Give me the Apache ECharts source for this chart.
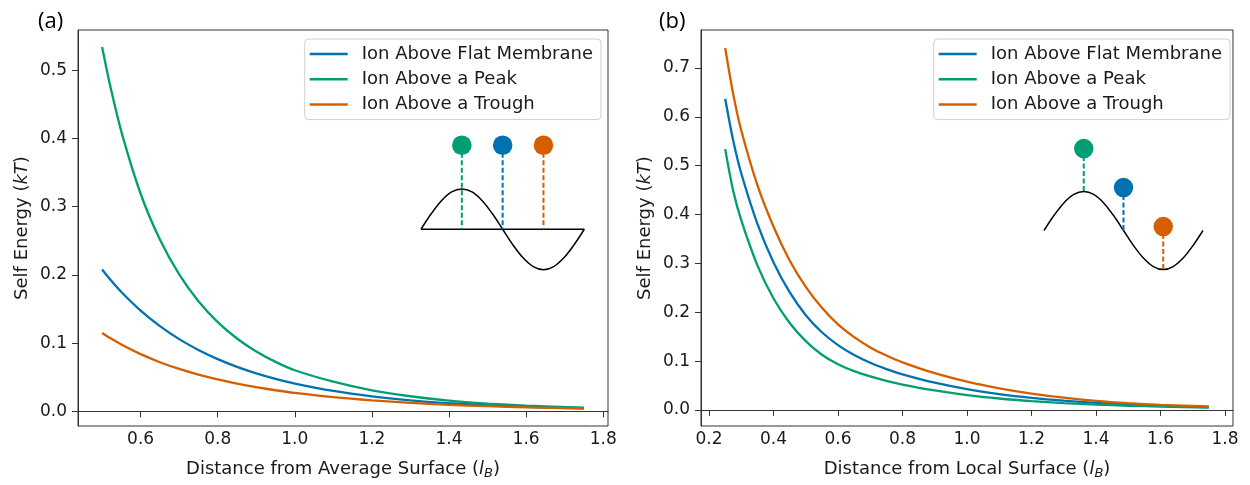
<!DOCTYPE html>
<html>
<head>
<meta charset="utf-8">
<script src="https://cdn.jsdelivr.net/npm/echarts@6/dist/echarts.min.js"></script>
<style>
html,body{margin:0;padding:0;background:#fff;}
#chart{width:1250px;height:485px;}
</style>
</head>
<body>
<div id="chart"></div>
<script>
// ---------- data ----------
const seriesNames = ['Ion Above Flat Membrane', 'Ion Above a Peak', 'Ion Above a Trough'];
const seriesColors = ['#0072B2', '#009E73', '#D55E00'];

// panel (a): distance from average surface
const leftX      = [0.50, 0.52, 0.55, 0.60, 0.65, 0.70, 0.75, 0.80, 0.85, 0.90, 0.95, 1.00, 1.10, 1.20, 1.30, 1.40, 1.50, 1.60, 1.75];
const leftFlat   = [0.208, 0.194, 0.1749, 0.1476, 0.1249, 0.1059, 0.0900, 0.0766, 0.0653, 0.0558, 0.0477, 0.0408, 0.0300, 0.0221, 0.0163, 0.0121, 0.0090, 0.0067, 0.0043];
const leftPeak   = [0.534, 0.4797, 0.4101, 0.319, 0.2518, 0.2007, 0.1615, 0.1309, 0.1069, 0.0878, 0.0726, 0.0603, 0.0435, 0.0308, 0.0222, 0.0157, 0.0114, 0.0084, 0.0054];
const leftTrough = [0.115, 0.1078, 0.0980, 0.0839, 0.0721, 0.0622, 0.0539, 0.0468, 0.0407, 0.0355, 0.0310, 0.0271, 0.0208, 0.0161, 0.0125, 0.0097, 0.0076, 0.0059, 0.0041];

// panel (b): distance from local surface
const rightX      = [0.25, 0.275, 0.30, 0.35, 0.40, 0.45, 0.50, 0.55, 0.60, 0.65, 0.70, 0.75, 0.80, 0.90, 1.00, 1.10, 1.20, 1.30, 1.40, 1.50, 1.60, 1.75];
const rightFlat   = [0.637, 0.551, 0.484, 0.381, 0.302, 0.241, 0.194, 0.159, 0.1326, 0.1124, 0.0965, 0.0837, 0.0729, 0.0557, 0.0425, 0.0325, 0.0248, 0.0189, 0.0145, 0.0110, 0.0084, 0.0057];
const rightPeak   = [0.534, 0.448, 0.388, 0.296, 0.228, 0.178, 0.141, 0.113, 0.0935, 0.0795, 0.0685, 0.0595, 0.0520, 0.0398, 0.0304, 0.0234, 0.0181, 0.0141, 0.0110, 0.0086, 0.0068, 0.0048];
const rightTrough = [0.741, 0.646, 0.572, 0.460, 0.375, 0.306, 0.252, 0.209, 0.175, 0.149, 0.128, 0.1115, 0.0975, 0.0752, 0.0578, 0.0442, 0.0335, 0.0251, 0.0186, 0.0138, 0.0103, 0.0070];

// tick labels
const leftXTicks  = [0.6, 0.8, 1.0, 1.2, 1.4, 1.6, 1.8];
const leftYTicks  = [0.0, 0.1, 0.2, 0.3, 0.4, 0.5];
const rightXTicks = [0.2, 0.4, 0.6, 0.8, 1.0, 1.2, 1.4, 1.6, 1.8];
const rightYTicks = [0.0, 0.1, 0.2, 0.3, 0.4, 0.5, 0.6, 0.7];

// inset schematics (one period of the membrane shape, in quarter-period units)
const waveX = [0, 0.25, 0.5, 0.75, 1, 1.25, 1.5, 1.75, 2, 2.25, 2.5, 2.75, 3, 3.25, 3.5, 3.75, 4];
const waveY = [0, 0.383, 0.707, 0.924, 1, 0.924, 0.707, 0.383, 0, -0.383, -0.707, -0.924, -1, -0.924, -0.707, -0.383, 0];
const baseX = [0, 4];
const baseY = [0, 0];
const ionX = [1, 2, 3];                 // peak, mid, trough position
const ionOrder = [1, 0, 2];             // colour index for each ion position
const leftIonY = [2.08, 2.08, 2.08];
const leftStemEnd = [0, 0, 0];
const rightIonY = [2.1, 1.1, 0.1];
const rightStemEnd = [1, 0, -1];

// ---------- helpers ----------
const zip = (xs, ys) => xs.map((x, i) => [x, ys[i]]);
const FONT = 'DejaVu Sans';
const TXT = '#1a1a1a';
const AX = '#333';
const TICK_FS = 17;
const NAME_FS = 18;

function mainXAxis(gridIndex, min, max, ticks, nameRich) {
  return {
    type: 'value', gridIndex, min, max,
    name: nameRich, nameLocation: 'middle', nameGap: 32,
    nameTextStyle: {
      fontFamily: FONT, fontSize: NAME_FS, color: TXT,
      rich: {
        n: {fontFamily: FONT, fontSize: NAME_FS, color: TXT, lineHeight: 22},
        i: {fontFamily: FONT, fontSize: NAME_FS, color: TXT, fontStyle: 'italic', lineHeight: 22},
        s: {fontFamily: FONT, fontSize: 13, color: TXT, fontStyle: 'italic', lineHeight: 13, verticalAlign: 'bottom'}
      }
    },
    axisLine: {show: true, lineStyle: {color: AX, width: 1}},
    axisTick: {show: true, length: 6, lineStyle: {color: AX}, customValues: ticks},
    axisLabel: {customValues: ticks, formatter: v => v.toFixed(1), fontFamily: FONT, fontSize: TICK_FS, color: TXT, margin: 5},
    splitLine: {show: false}
  };
}
function mainYAxis(gridIndex, min, max, ticks) {
  return {
    type: 'value', gridIndex, min, max,
    name: '{n|Self Energy (}{i|kT}{n|)}', nameLocation: 'middle', nameGap: 47, nameRotate: 90,
    nameTextStyle: {
      fontFamily: FONT, fontSize: NAME_FS, color: TXT,
      rich: {
        n: {fontFamily: FONT, fontSize: NAME_FS, color: TXT},
        i: {fontFamily: FONT, fontSize: NAME_FS, color: TXT, fontStyle: 'italic'}
      }
    },
    axisLine: {show: true, lineStyle: {color: AX, width: 1}},
    axisTick: {show: true, length: 6, lineStyle: {color: AX}, customValues: ticks},
    axisLabel: {customValues: ticks, formatter: v => v.toFixed(1), fontFamily: FONT, fontSize: TICK_FS, color: TXT, margin: 11},
    splitLine: {show: false}
  };
}
function insetAxes(gridIndex) {
  return [
    {type: 'value', gridIndex, min: 0, max: 4, show: false},
    {type: 'value', gridIndex, min: -1.1, max: 2.5, show: false}
  ];
}
function legendFor(right) {
  return {
    data: seriesNames, orient: 'vertical', right, top: 39,
    icon: 'rect', itemWidth: 38, itemHeight: 2.5, itemGap: 7.3,
    padding: [6, 8, 6, 5],
    backgroundColor: 'rgba(255,255,255,0.85)', borderColor: '#d0d0d0', borderWidth: 1, borderRadius: 4,
    textStyle: {fontFamily: FONT, fontSize: 18, color: TXT, lineHeight: 18, padding: [0, 0, 0, 9]},
    selectedMode: false
  };
}

const leftData = [leftFlat, leftPeak, leftTrough];
const rightData = [rightFlat, rightPeak, rightTrough];

const series = [];
leftData.forEach((ys, k) => series.push({
  name: seriesNames[k], type: 'line', xAxisIndex: 0, yAxisIndex: 0,
  data: zip(leftX, ys), showSymbol: false, smooth: 0.25,
  lineStyle: {color: seriesColors[k], width: 2.3}, itemStyle: {color: seriesColors[k]}, z: 3
}));
rightData.forEach((ys, k) => series.push({
  name: seriesNames[k], type: 'line', xAxisIndex: 1, yAxisIndex: 1,
  data: zip(rightX, ys), showSymbol: false, smooth: 0.25,
  lineStyle: {color: seriesColors[k], width: 2.3}, itemStyle: {color: seriesColors[k]}, z: 3
}));

function addInset(axisIdx, ionY, stemEnd, withBase) {
  series.push({
    type: 'line', xAxisIndex: axisIdx, yAxisIndex: axisIdx, data: zip(waveX, waveY),
    showSymbol: false, smooth: 0.35, lineStyle: {color: '#000', width: 1.5}, silent: true, z: 4
  });
  if (withBase) series.push({
    type: 'line', xAxisIndex: axisIdx, yAxisIndex: axisIdx, data: zip(baseX, baseY),
    showSymbol: false, lineStyle: {color: '#000', width: 1.5}, silent: true, z: 4
  });
  ionX.forEach((x, j) => {
    const c = seriesColors[ionOrder[j]];
    series.push({
      type: 'line', xAxisIndex: axisIdx, yAxisIndex: axisIdx,
      data: [[x, ionY[j]], [x, stemEnd[j]]], showSymbol: false,
      lineStyle: {color: c, width: 2, type: [5, 2.5]}, silent: true, z: 5
    });
    series.push({
      type: 'scatter', xAxisIndex: axisIdx, yAxisIndex: axisIdx,
      data: [[x, ionY[j]]], symbol: 'circle', symbolSize: 19.5,
      itemStyle: {color: c, opacity: 1}, silent: true, z: 6
    });
  });
}
addInset(2, leftIonY, leftStemEnd, true);
addInset(3, rightIonY, rightStemEnd, false);

const option = {
  animation: false,
  backgroundColor: '#fff',
  title: [
    {text: '(a)', left: 33, top: 6, textStyle: {fontFamily: 'Open Sans', fontSize: 22, fontWeight: 'normal', color: '#000'}},
    {text: '(b)', left: 654, top: 6, textStyle: {fontFamily: 'Open Sans', fontSize: 22, fontWeight: 'normal', color: '#000'}}
  ],
  legend: [legendFor(1250 - 601), legendFor(1250 - 1230)],
  grid: [
    {left: 78, top: 30, width: 530, height: 396, show: true, borderColor: AX, borderWidth: 1, containLabel: false},
    {left: 701, top: 30, width: 532, height: 396, show: true, borderColor: AX, borderWidth: 1, containLabel: false},
    {left: 421, top: 128.3, width: 163.3, height: 145.4},
    {left: 1044, top: 133, width: 159, height: 140.4}
  ],
  xAxis: [
    mainXAxis(0, 0.4375, 1.8125, leftXTicks, '{n|Distance from Average Surface (}{i|l}{s|B}{n|)}'),
    mainXAxis(1, 0.175, 1.825, rightXTicks, '{n|Distance from Local Surface (}{i|l}{s|B}{n|)}'),
    insetAxes(2)[0], insetAxes(3)[0]
  ],
  yAxis: [
    mainYAxis(0, -0.0214, 0.559, leftYTicks),
    mainYAxis(1, -0.0329, 0.7778, rightYTicks),
    insetAxes(2)[1], insetAxes(3)[1]
  ],
  series
};

const chart = echarts.init(document.getElementById('chart'), null, {renderer: 'canvas'});
chart.setOption(option);
</script>
</body>
</html>
